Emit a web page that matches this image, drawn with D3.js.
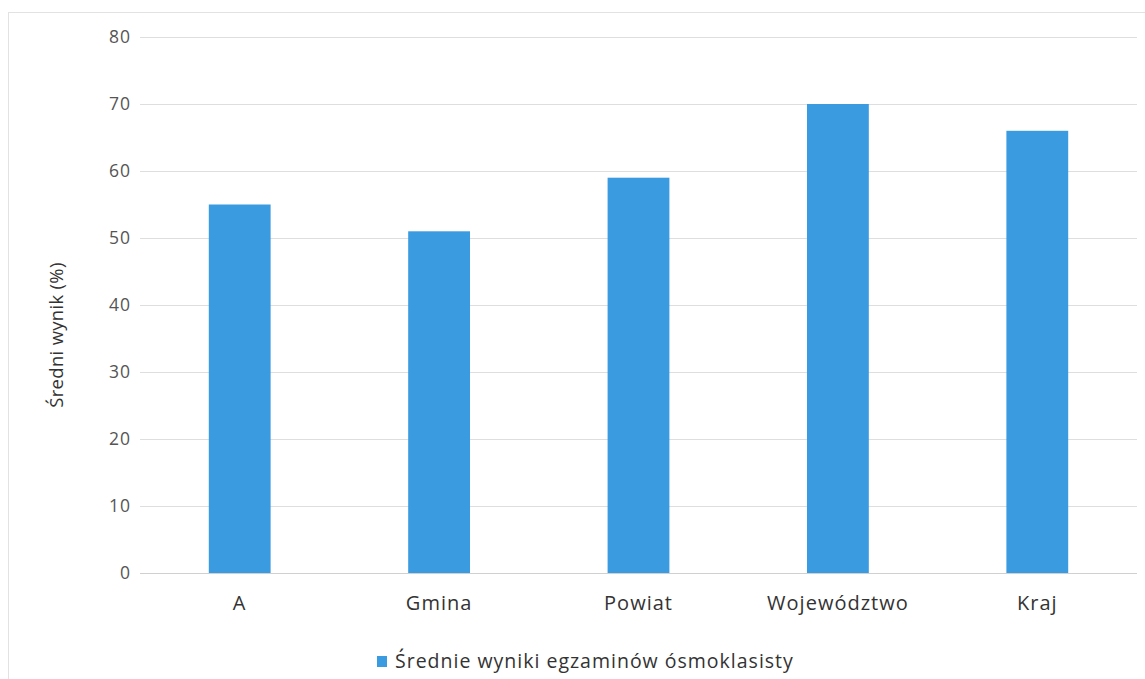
<!DOCTYPE html>
<html><head><meta charset="utf-8">
<script src="https://cdn.jsdelivr.net/npm/d3@7/dist/d3.min.js"></script>
<style>
html,body{margin:0;padding:0;background:#fff;}
text{font-family:"Open Sans","Liberation Sans",sans-serif;}
</style></head>
<body><svg id="c" width="1145" height="679"></svg>
<script>
const categories = ["A","Gmina","Powiat","Województwo","Kraj"];
const values = [55, 51, 59, 70, 66];
const yTicks = [0,10,20,30,40,50,60,70,80];
const seriesName = "Średnie wyniki egzaminów ósmoklasisty";
const yTitle = "Średni wynik (%)";

const svg = d3.select("#c");
const m = {left:140, right:8, top:37, bottom:106};
const W = 1145, H = 679;

svg.append("rect").attr("x",8.5).attr("y",12.5).attr("width",1150).attr("height",680)
  .attr("fill","#fff").attr("stroke","#e2e2e2");

const x = d3.scaleBand().domain(categories).range([m.left, W-m.right]).paddingInner(0.69).paddingOuter(0.345);
const y = d3.scaleLinear().domain([0,80]).range([H-m.bottom, m.top]);

const g = svg.append("g");
g.selectAll("line.grid").data(yTicks).join("line")
  .attr("x1",m.left).attr("x2",W-m.right)
  .attr("y1",d=>Math.round(y(d))+0.5).attr("y2",d=>Math.round(y(d))+0.5)
  .attr("stroke",d=>d===0?"#d0d0d0":"#dedede").attr("stroke-width",1);

const yAxis = d3.axisLeft(y).tickValues(yTicks).tickSize(0).tickPadding(9);
const ya = svg.append("g").attr("transform",`translate(${m.left},0)`).call(yAxis);
ya.select(".domain").remove();
ya.selectAll("text").attr("font-size",17.5).attr("fill","#555").attr("letter-spacing","1px");

g.selectAll("rect.bar").data(values).join("rect")
  .attr("x",(d,i)=>x(categories[i])).attr("width",x.bandwidth())
  .attr("y",d=>y(d)).attr("height",d=>y(0)-y(d))
  .attr("fill","#3b9be0");

const xAxis = d3.axisBottom(x).tickSize(0).tickPadding(23);
const xa = svg.append("g").attr("transform",`translate(0,${y(0)})`).call(xAxis);
xa.select(".domain").remove();
xa.selectAll("text").attr("font-size",20).attr("fill","#333").attr("letter-spacing","1px");

svg.append("text").attr("transform","translate(63,335) rotate(-90)")
  .attr("text-anchor","middle").attr("font-size",18.5).attr("fill","#333").attr("letter-spacing","0.3px").text(yTitle);

const lg = svg.append("g").attr("transform","translate(377,656)");
lg.append("rect").attr("width",10).attr("height",11).attr("fill","#3b9be0");
lg.append("text").attr("x",18).attr("y",12).attr("font-size",19.5).attr("fill","#333").attr("letter-spacing","1px").text(seriesName);
</script></body></html>
